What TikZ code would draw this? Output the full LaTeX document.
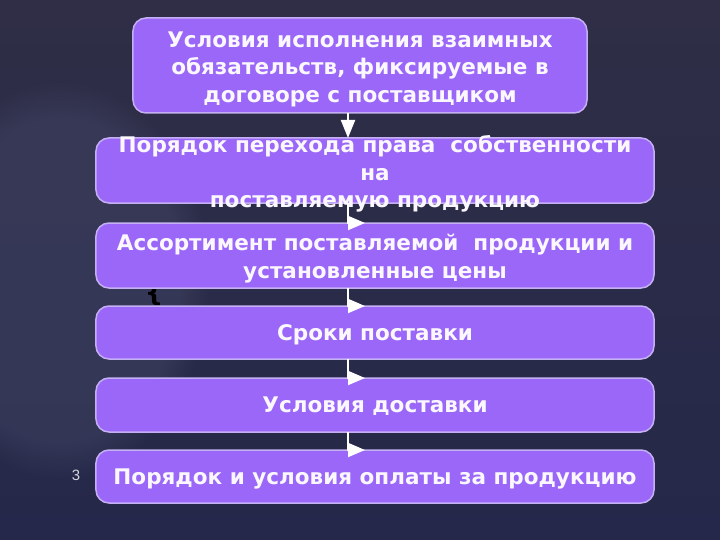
\documentclass[tikz,border=0pt]{standalone}
\usepackage{fontspec}
\setmainfont{DejaVu Sans}
\newfontfamily\pagefont{Liberation Sans}
\usepackage{xcolor}
\usepackage{tikz}
\usetikzlibrary{positioning, arrows.meta, fadings}
\definecolor{bgtop}{HTML}{2F2E46}
\definecolor{bgbottom}{HTML}{25284A}
\definecolor{bglight}{HTML}{414464}
\definecolor{boxfill}{HTML}{9A67F8}
\definecolor{boxline}{HTML}{C4B0F2}
\definecolor{boxtext}{HTML}{FAF7FF}
\definecolor{pagegray}{HTML}{D5D5DD}

\begin{document}
\begin{tikzpicture}[
    x=1bp, y=-1bp,
    node distance=19bp,
    box/.style={
        draw=boxline,
        line width=1.5bp,
        outer sep=0pt,
        rounded corners=13bp,
        fill=boxfill,
        minimum width=558bp,
        minimum height=53bp,
        inner sep=2bp,
        text depth=0pt,
        text=boxtext,
        font=\bfseries\fontsize{21.6}{27.5}\selectfont
    },
    boxlabel/.style={align=center, text=boxtext, font=\bfseries\fontsize{21.6}{27.5}\selectfont},
    arrow/.style={-{Triangle[length=18bp,width=14bp]}, white, line width=2bp},
    elbow/.style={-{Triangle[length=17bp,width=14bp]}, white, line width=2bp}
]

% slide background
\useasboundingbox (0,0) rectangle (720,540);
\shade[top color=bgtop, bottom color=bgbottom] (0,0) rectangle (720,540);
\fill[bglight, opacity=0.5, path fading=circle with fuzzy edge 20 percent] (60,280) ellipse (150 and 200);

\node[font=\bfseries\fontsize{26}{26}\selectfont, text=black, inner sep=0pt] (brace) at (154,294) {\{};
\node[font=\pagefont\fontsize{15}{15}\selectfont, text=pagegray, inner sep=0pt] (pagenum) at (76,475) {3};

\node[box, minimum width=454bp, minimum height=95bp] (terms) at (360,65.5) {};
\node[boxlabel] (termstext) at ([yshift=-3.5bp]terms.center) {Условия исполнения взаимных\\обязательств, фиксируемые в\\договоре с поставщиком};
\node[box, minimum height=65bp, below=25bp of terms, xshift=15bp] (transfer) {};
\node[boxlabel] (transfertext) at ([yshift=-3.5bp]transfer.center) {Порядок перехода права\ \ собственности\\на\\поставляемую продукцию};
\node[box, minimum height=65bp, below=20bp of transfer] (range) {};
\node[boxlabel] (rangetext) at ([yshift=-3bp]range.center) {Ассортимент поставляемой\ \ продукции и\\установленные цены};
\node[box, below=18bp of range] (deadline) {Сроки поставки};
\node[box, minimum height=54bp, below=of deadline] (delivery) {Условия доставки};
\node[box, below=18bp of delivery] (payment) {Порядок и условия оплаты за продукцию};

\draw[arrow] ([xshift=-12bp]terms.south) -- ([xshift=-12bp]terms.south |- transfer.north);
\foreach \a/\b in {transfer/range, range/deadline, deadline/delivery, delivery/payment}
    \draw[elbow] ([xshift=-27bp]\a.south) |- ([xshift=-10bp]\b.north);

\end{tikzpicture}
\end{document}
